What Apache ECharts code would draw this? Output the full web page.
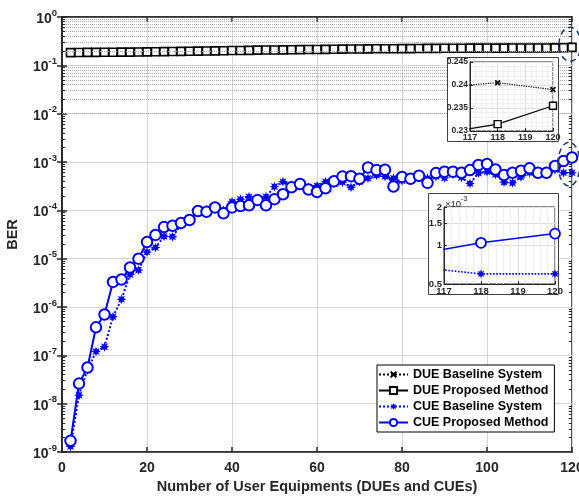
<!DOCTYPE html>
<html><head><meta charset="utf-8">
<script src="https://cdn.jsdelivr.net/npm/echarts@6/dist/echarts.min.js"></script>
<style>html,body{margin:0;padding:0;background:#fff}#c{width:579px;height:498px}</style>
</head><body><div id="c"></div>
<script>
// ---------------- data ----------------
const xValues = [2,4,6,8,10,12,14,16,18,20,22,24,26,28,30,32,34,36,38,40,42,44,46,48,50,52,54,56,58,60,
  62,64,66,68,70,72,74,76,78,80,82,84,86,88,90,92,94,96,98,100,102,104,106,108,110,112,114,116,118,120];

const dueBaseline = [0.190,0.191,0.192,0.193,0.194,0.194,0.195,0.196,0.197,0.198,
  0.199,0.200,0.201,0.202,0.204,0.205,0.206,0.207,0.209,0.210,
  0.211,0.212,0.214,0.215,0.216,0.217,0.218,0.219,0.220,0.221,
  0.222,0.223,0.224,0.225,0.226,0.227,0.228,0.228,0.229,0.230,
  0.230,0.231,0.232,0.232,0.233,0.234,0.234,0.235,0.235,0.236,
  0.236,0.237,0.237,0.238,0.238,0.239,0.239,0.2395,0.2405,0.239];

const dueProposed = [0.183,0.184,0.185,0.185,0.186,0.187,0.188,0.188,0.189,0.190,
  0.191,0.192,0.193,0.194,0.196,0.197,0.198,0.199,0.201,0.202,
  0.203,0.204,0.206,0.207,0.208,0.209,0.210,0.211,0.212,0.213,
  0.214,0.215,0.216,0.217,0.218,0.219,0.220,0.220,0.221,0.222,
  0.222,0.223,0.224,0.224,0.225,0.226,0.226,0.227,0.227,0.228,
  0.227,0.227,0.228,0.228,0.229,0.229,0.229,0.2295,0.2315,0.2355];

const cueBaseline = [1.3e-9,1.5e-8,5.0e-8,1.2e-7,1.5e-7,6.3e-7,1.45e-6,4.7e-6,5.8e-6,1.37e-5,
  1.7e-5,2.9e-5,2.85e-5,5.0e-5,6.8e-5,9.0e-5,1.0e-4,1.2e-4,1.0e-4,1.5e-4,
  1.7e-4,1.9e-4,1.6e-4,1.9e-4,3.1e-4,3.9e-4,3.3e-4,3.3e-4,3.0e-4,3.2e-4,
  3.9e-4,3.6e-4,3.8e-4,3.0e-4,3.9e-4,4.6e-4,5.3e-4,5.0e-4,4.6e-4,4.1e-4,
  4.2e-4,4.8e-4,4.6e-4,5.0e-4,4.7e-4,5.5e-4,4.8e-4,3.6e-4,5.9e-4,6.3e-4,
  5.5e-4,3.8e-4,3.7e-4,4.9e-4,6.0e-4,5.6e-4,5.6e-4,6.9e-4,6.0e-4,6.0e-4];

const cueProposed = [1.7e-9,2.6e-8,5.6e-8,3.8e-7,7.0e-7,3.3e-6,3.7e-6,6.6e-6,1.0e-5,2.2e-5,
  3.1e-5,4.5e-5,4.8e-5,5.5e-5,6.3e-5,9.7e-5,9.3e-5,1.15e-4,8.7e-5,1.15e-4,
  1.23e-4,1.27e-4,1.63e-4,1.27e-4,1.7e-4,2.15e-4,3.0e-4,3.5e-4,2.7e-4,2.4e-4,
  2.85e-4,4.0e-4,5.0e-4,5.1e-4,4.5e-4,7.7e-4,6.8e-4,6.9e-4,3.1e-4,4.9e-4,
  4.5e-4,5.2e-4,3.7e-4,5.9e-4,6.3e-4,6.3e-4,6.0e-4,6.8e-4,8.7e-4,9.1e-4,
  7.0e-4,5.4e-4,6.0e-4,6.6e-4,7.4e-4,6.0e-4,6.0e-4,8.3e-4,1.05e-3,1.24e-3];

const seriesNames = ['DUE Baseline System','DUE Proposed Method','CUE Baseline System','CUE Proposed Method'];
const xAxisTitle = 'Number of User Equipments (DUEs and CUEs)';
const yAxisTitle = 'BER';
const xTickStep = 20;
const yDecades = [-9,-8,-7,-6,-5,-4,-3,-2,-1,0];
const insetXRange = [117,120];
const inset1YTicks = [0.23,0.235,0.24,0.245];
const inset2YTicks = [0.0005,0.001,0.0015,0.002];

// ---------------- helpers ----------------
const FONT = '"Liberation Sans", Arial, Helvetica, sans-serif';
const TXT = '#262626';
const pairs = arr => xValues.map((x,i)=>[x, arr[i]]);
const insetPairs = arr => xValues.map((x,i)=>[x, arr[i]]).filter(p=>p[0]>=insetXRange[0]-1);

function starPath(n, R, r){
  let d = '';
  for(let i=0;i<2*n;i++){
    const a = Math.PI*i/n - Math.PI/2;
    const rad = i%2===0 ? R : r;
    d += (i===0?'M':'L') + (R+rad*Math.cos(a)).toFixed(2)+','+(R+rad*Math.sin(a)).toFixed(2);
  }
  return 'path://'+d+'Z';
}
const STAR = starPath(8, 10, 5);
const XMARK = 'path://M2,0L5,3L8,0L10,2L7,5L10,8L8,10L5,7L2,10L0,8L3,5L0,2Z';

// minor grid values (2..9 within each decade)
const minorVals = [];
yDecades.slice(0,-1).forEach(e=>{ for(let k=2;k<=9;k++) minorVals.push(k*Math.pow(10,e)); });

const chart = echarts.init(document.getElementById('c'), null, {renderer:'canvas'});

const lineBase = {type:'line', animation:false, clip:true};

const option = {
  animation:false,
  backgroundColor:'#fff',
  textStyle:{fontFamily:FONT},
  grid:[
    {left:62, right:7, top:17, bottom:46, show:true, borderColor:TXT, borderWidth:1.5, backgroundColor:'#fff', z:0, outerBoundsMode:'none', containLabel:false},
    {left:470, top:62, width:83, height:69, show:true, borderColor:TXT, borderWidth:1, backgroundColor:'#fff', z:20, outerBoundsMode:'none', containLabel:false},
    {left:444, top:207, width:111, height:77, show:true, borderColor:TXT, borderWidth:1, backgroundColor:'#fff', z:20, outerBoundsMode:'none', containLabel:false}
  ],
  xAxis:[
    {type:'value', gridIndex:0, min:0, max:120, interval:xTickStep,
     name:xAxisTitle, nameLocation:'middle', nameGap:27,
     nameTextStyle:{fontFamily:FONT, fontWeight:'bold', fontSize:14.5, color:TXT},
     axisLine:{show:true, lineStyle:{color:TXT, width:1.5}},
     axisTick:{inside:true, length:5, lineStyle:{color:TXT, width:1.5}},
     axisLabel:{fontFamily:FONT, fontWeight:'bold', fontSize:14, color:TXT, margin:9},
     splitLine:{show:true, lineStyle:{color:'#d4d4d4', width:1}}},
    {type:'value', gridIndex:0, position:'top', min:0, max:120, interval:xTickStep,
     axisLine:{show:true, lineStyle:{color:TXT, width:1.5}},
     axisTick:{inside:true, length:5, lineStyle:{color:TXT, width:1.5}},
     axisLabel:{show:false}, splitLine:{show:false}},
    {type:'value', gridIndex:1, min:insetXRange[0], max:insetXRange[1], interval:1, z:21,
     axisLine:{show:true, lineStyle:{color:TXT, width:1}},
     axisTick:{inside:true, length:3, lineStyle:{color:TXT}},
     axisLabel:{fontFamily:FONT, fontWeight:'bold', fontSize:9, color:TXT, margin:2},
     splitLine:{show:true, lineStyle:{color:'#dedede'}},
     minorTick:{show:false}, minorSplitLine:{show:true, lineStyle:{color:'#f0f0f0'}}},
    {type:'value', gridIndex:2, min:insetXRange[0], max:insetXRange[1], interval:1, z:21,
     axisLine:{show:true, lineStyle:{color:TXT, width:1}},
     axisTick:{inside:true, length:3, lineStyle:{color:TXT}},
     axisLabel:{fontFamily:FONT, fontWeight:'bold', fontSize:9.5, color:TXT, margin:2},
     splitLine:{show:true, lineStyle:{color:'#dedede'}},
     minorSplitLine:{show:true, lineStyle:{color:'#f0f0f0'}}}
  ],
  yAxis:[
    {type:'log', logBase:10, gridIndex:0, min:1e-9, max:1, interval:1, splitNumber:9,
     name:yAxisTitle, nameLocation:'middle', nameGap:42, nameRotate:90,
     nameTextStyle:{fontFamily:FONT, fontWeight:'bold', fontSize:14.5, color:TXT},
     axisLine:{show:true, lineStyle:{color:TXT, width:1.5}},
     axisTick:{inside:true, length:5, lineStyle:{color:TXT, width:1.5}},
     axisLabel:{margin:5, formatter:v=>'{b|10}{s|'+Math.round(Math.log10(v))+'}',
       rich:{b:{fontFamily:FONT, fontWeight:'bold', fontSize:14, color:TXT, padding:[4,0,0,0]},
             s:{fontFamily:FONT, fontWeight:'bold', fontSize:9.5, color:TXT, verticalAlign:'top'}}},
     splitLine:{show:true, lineStyle:{color:'#d4d4d4', width:1}}},
    {type:'log', logBase:10, gridIndex:0, position:'right', min:1e-9, max:1, interval:1, splitNumber:9,
     axisLine:{show:true, lineStyle:{color:TXT, width:1.5}},
     axisTick:{inside:true, length:5, lineStyle:{color:TXT, width:1.5}},
     axisLabel:{show:false}, splitLine:{show:false}},
    {type:'value', gridIndex:1, min:0.23, max:0.245, interval:0.005, z:21,
     axisLine:{show:true, lineStyle:{color:TXT, width:1}},
     axisTick:{inside:true, length:3, lineStyle:{color:TXT}},
     axisLabel:{fontFamily:FONT, fontWeight:'bold', fontSize:8.5, color:TXT, margin:2},
     splitLine:{show:true, lineStyle:{color:'#dedede'}},
     minorSplitLine:{show:true, lineStyle:{color:'#f0f0f0'}}},
    {type:'log', logBase:10, gridIndex:2, min:0.0005, max:0.002, z:21,
     axisLine:{show:true, lineStyle:{color:TXT, width:1}},
     axisTick:{inside:true, length:3, lineStyle:{color:TXT}, customValues:inset2YTicks},
     axisLabel:{fontFamily:FONT, fontWeight:'bold', fontSize:9.5, color:TXT, margin:2,
       customValues:inset2YTicks, formatter:v=>String(+(v*1000).toFixed(2))},
     splitLine:{show:true, lineStyle:{color:'#dedede'}}}
  ],
  legend:{
    data:seriesNames, orient:'vertical', left:377, top:365,
    backgroundColor:'#fff', borderColor:'#000', borderWidth:1,
    padding:[3,6,3,1], itemGap:3, itemWidth:29, itemHeight:9, selectedMode:false,
    textStyle:{fontFamily:FONT, fontWeight:'bold', fontSize:12.5, color:'#000'}, z:30
  },
  series:[
    {...lineBase, name:'_grid', xAxisIndex:0, yAxisIndex:0, data:[], z:1, silent:true,
     markLine:{silent:true, symbol:['none','none'], label:{show:false}, animation:false,
       lineStyle:{type:'dotted', color:'#a8a8a8', width:1},
       data:minorVals.map(v=>({yAxis:v}))}},
    {...lineBase, name:'_ticks', xAxisIndex:0, yAxisIndex:0, data:[], z:5, silent:true,
     markLine:{silent:true, symbol:['none','none'], label:{show:false}, animation:false,
       lineStyle:{type:'solid', color:TXT, width:1},
       data:minorVals.map(v=>[{coord:[0,v]},{coord:[0.75,v]}]).concat(minorVals.map(v=>[{coord:[119.25,v]},{coord:[120,v]}]))}},
    {...lineBase, name:seriesNames[0], xAxisIndex:0, yAxisIndex:0, data:pairs(dueBaseline), z:3,
     lineStyle:{color:'#000', type:'dotted', width:1.5}, symbol:XMARK, symbolSize:7, itemStyle:{color:'#000'}},
    {...lineBase, name:seriesNames[1], xAxisIndex:0, yAxisIndex:0, data:pairs(dueProposed), z:3,
     lineStyle:{color:'#000', width:1.5}, symbol:'rect', symbolSize:8,
     itemStyle:{color:'#fff', borderColor:'#000', borderWidth:1.6}},
    {...lineBase, name:seriesNames[2], xAxisIndex:0, yAxisIndex:0, data:pairs(cueBaseline), z:3,
     lineStyle:{color:'#0000ff', type:'dotted', width:2}, symbol:STAR, symbolSize:10, itemStyle:{color:'#0000ff'}},
    {...lineBase, name:seriesNames[3], xAxisIndex:0, yAxisIndex:0, data:pairs(cueProposed), z:3,
     lineStyle:{color:'#0000ff', width:2}, symbol:'circle', symbolSize:10.5,
     itemStyle:{color:'#fff', borderColor:'#0000ff', borderWidth:2}},
    // inset 1
    {...lineBase, name:seriesNames[0], xAxisIndex:2, yAxisIndex:2, data:insetPairs(dueBaseline), z:22,
     lineStyle:{color:'#000', type:'dotted', width:1.2}, symbol:XMARK, symbolSize:6, itemStyle:{color:'#000'}},
    {...lineBase, name:seriesNames[1], xAxisIndex:2, yAxisIndex:2, data:insetPairs(dueProposed), z:22,
     lineStyle:{color:'#000', width:1.2}, symbol:'rect', symbolSize:7,
     itemStyle:{color:'#fff', borderColor:'#000', borderWidth:1.4}},
    // inset 2
    {...lineBase, name:seriesNames[2], xAxisIndex:3, yAxisIndex:3, data:insetPairs(cueBaseline), z:22,
     lineStyle:{color:'#0000ff', type:'dotted', width:1.6}, symbol:STAR, symbolSize:9, itemStyle:{color:'#0000ff'}},
    {...lineBase, name:seriesNames[3], xAxisIndex:3, yAxisIndex:3, data:insetPairs(cueProposed), z:22,
     lineStyle:{color:'#0000ff', width:1.6}, symbol:'circle', symbolSize:10,
     itemStyle:{color:'#fff', borderColor:'#0000ff', borderWidth:1.8}}
  ]
};
chart.setOption(option);

// annotations (insets frames, ellipses) positioned relative to data
const last = xValues.length-1;
const p1 = chart.convertToPixel({xAxisIndex:0, yAxisIndex:0}, [xValues[last], dueProposed[last]]);
const pc = chart.convertToPixel({xAxisIndex:0, yAxisIndex:0}, [xValues[last], Math.sqrt(cueProposed[last]*cueBaseline[last])]);
chart.setOption({
  graphic:[
    {type:'rect', z:10, shape:{x:447.5, y:57.5, width:111, height:84}, style:{fill:'#fff', stroke:'#404040', lineWidth:1}},
    {type:'rect', z:10, shape:{x:428.5, y:193.5, width:130, height:101}, style:{fill:'#fff', stroke:'#404040', lineWidth:1}},
    {type:'text', z:40, x:445, y:196, style:{text:'{a|×10}{b|-3}', rich:{a:{fontFamily:FONT, fontSize:9.5, fill:TXT, padding:[3,0,0,0]}, b:{fontFamily:FONT, fontSize:7, fill:TXT, verticalAlign:'top'}}}},
    {type:'ellipse', z:40, shape:{cx:p1[0]-2, cy:p1[1]-3, rx:11, ry:17}, style:{fill:'none', stroke:'#203864', lineWidth:1.5, lineDash:[6,4]}},
    {type:'ellipse', z:40, shape:{cx:pc[0]-3, cy:pc[1]-1, rx:11, ry:22}, style:{fill:'none', stroke:'#203864', lineWidth:1.5, lineDash:[6,4]}}
  ]
});
</script></body></html>
